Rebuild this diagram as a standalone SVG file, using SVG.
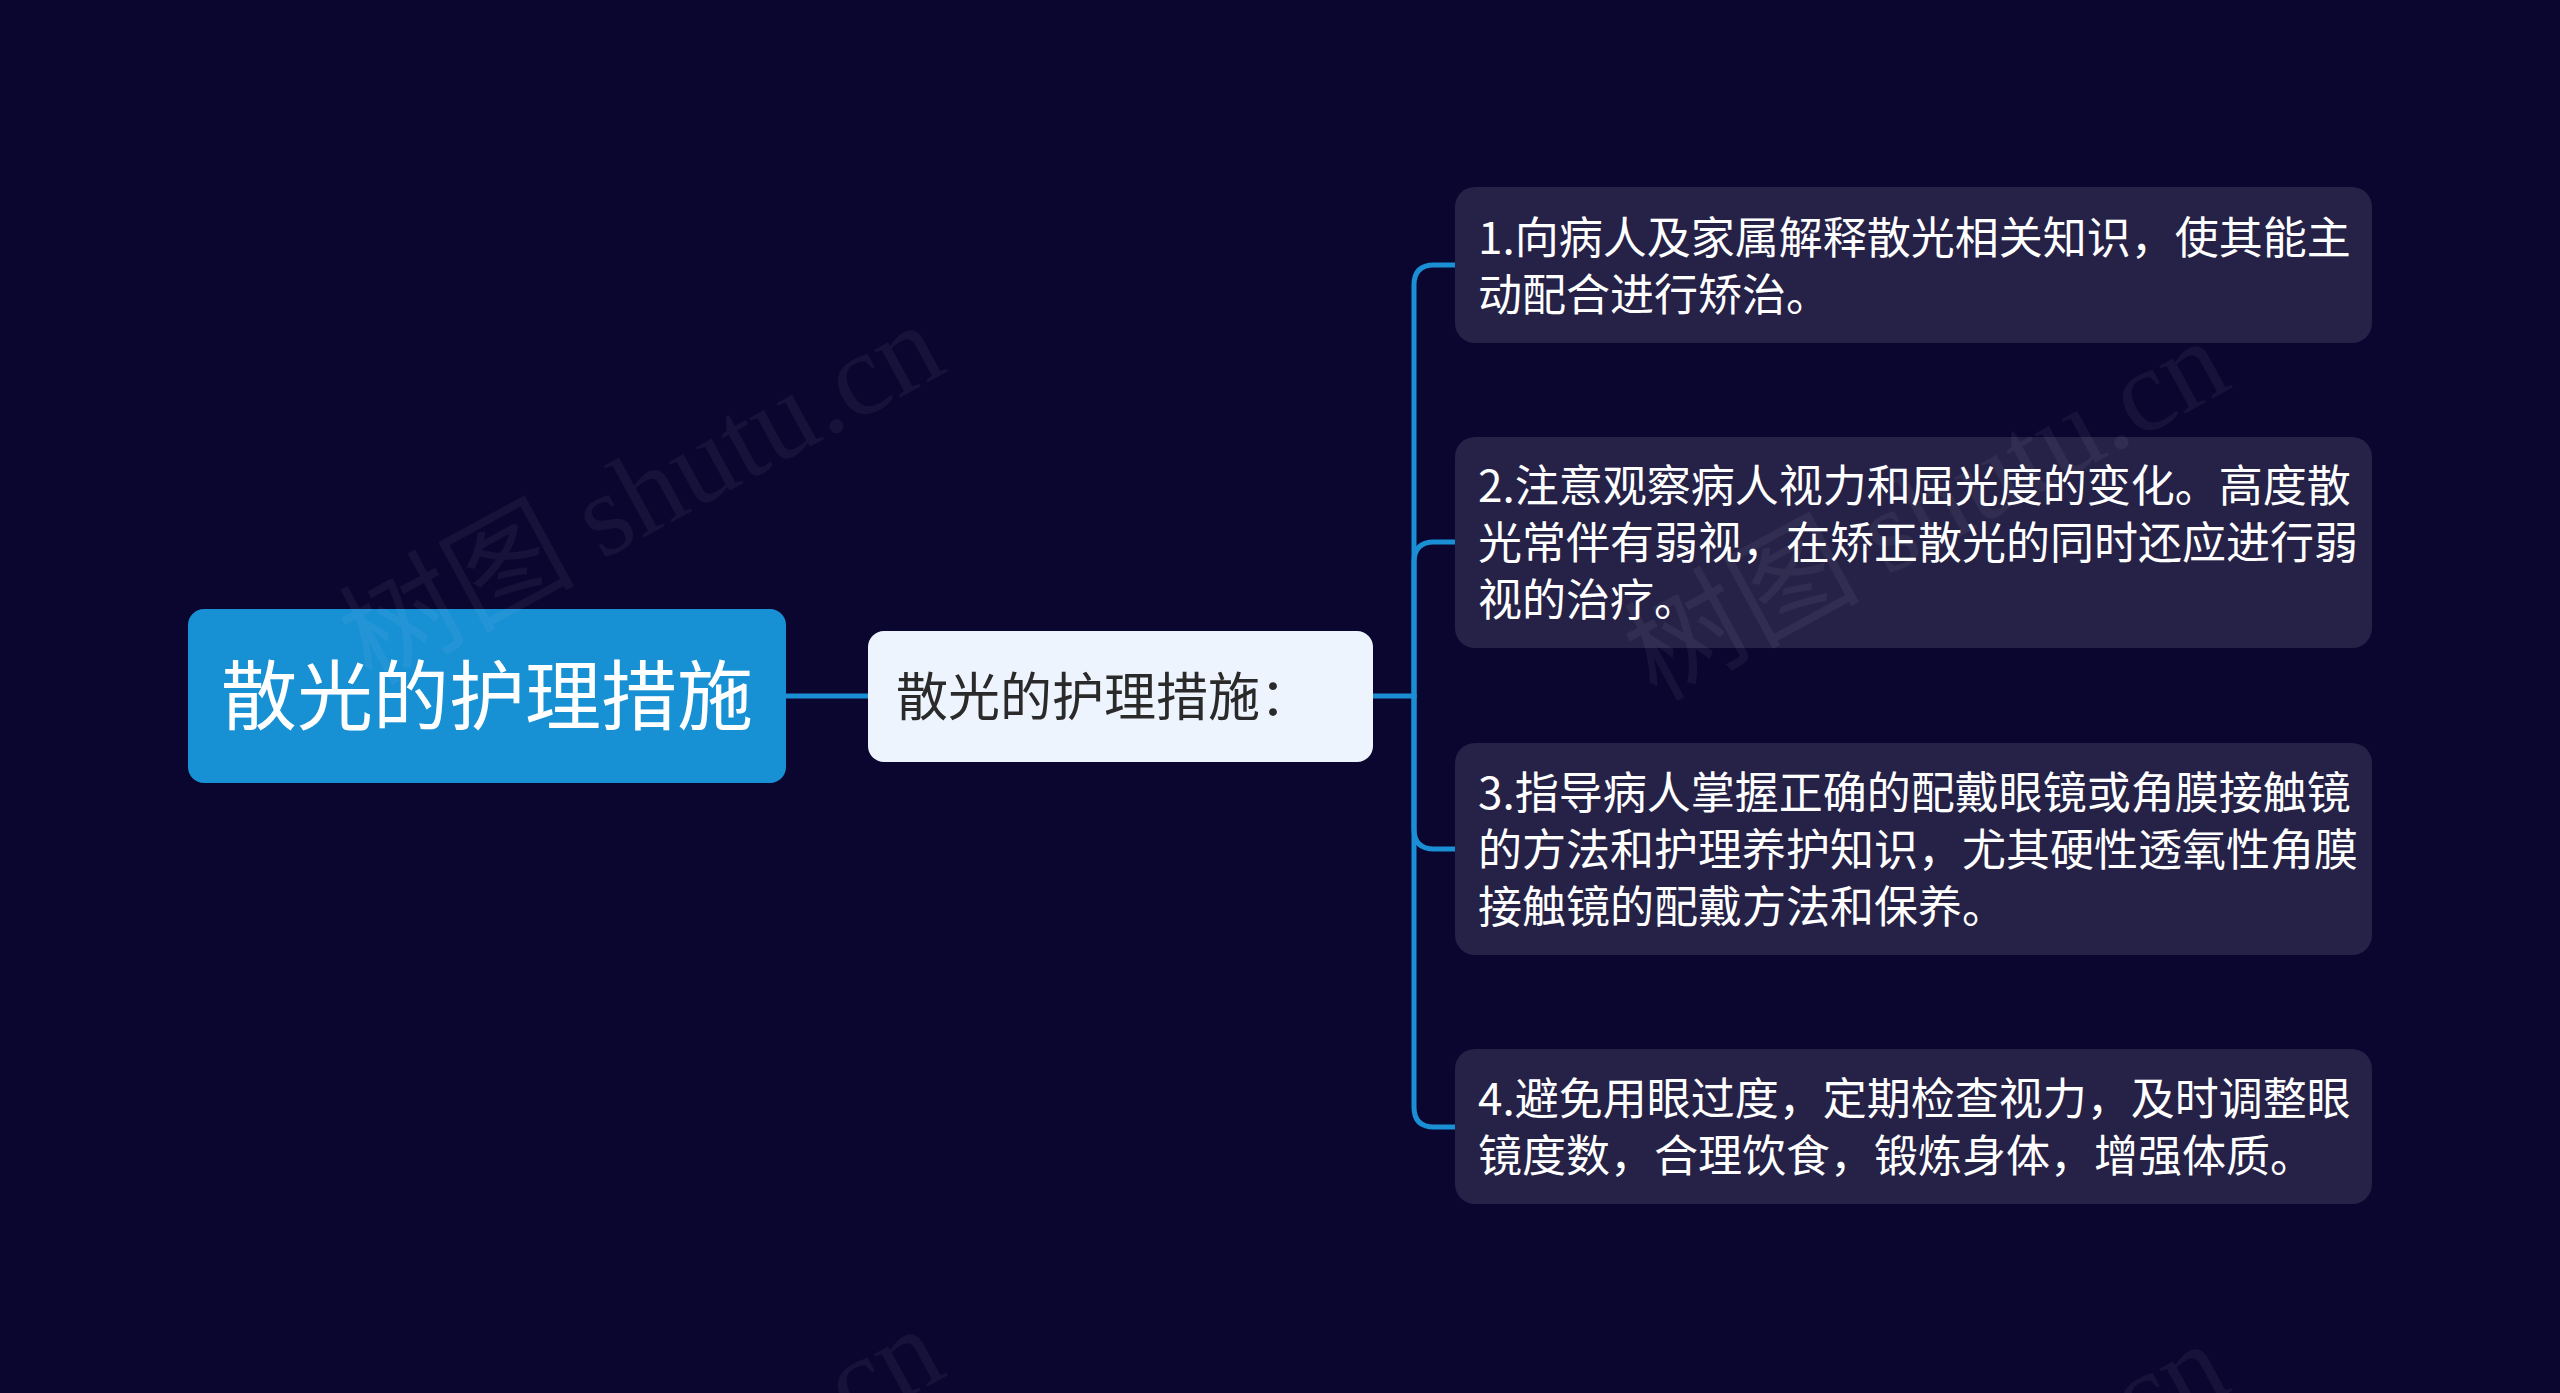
<svg xmlns="http://www.w3.org/2000/svg" width="2560" height="1393" viewBox="0 0 2560 1393">
<style>
.cjk{font-family:"Noto Sans CJK SC","Noto Sans",sans-serif;}
.leaf{fill:#262247;}
.leaftext{font-size:44px;fill:#ffffff;}
.conn{fill:none;stroke:#1a8fd6;stroke-width:5;stroke-linecap:round;}
.wm{font-size:118px;fill:#ffffff;fill-opacity:0.05;}
.wmlat{font-family:"Liberation Serif","DejaVu Serif",serif;}
</style>
<rect x="0" y="0" width="2560" height="1393" fill="#0b0630"/>
<g id="connectors">
<path class="conn" d="M786,696 H868"/>
<path class="conn" d="M1373,696 H1414"/>
<path class="conn" d="M1414,696 V285 Q1414,265 1434,265 H1455"/>
<path class="conn" d="M1414,696 V562 Q1414,542 1434,542 H1455"/>
<path class="conn" d="M1414,696 V829 Q1414,849 1434,849 H1455"/>
<path class="conn" d="M1414,696 V1107 Q1414,1127 1434,1127 H1455"/>
</g>
<g id="root">
<rect x="188" y="609" width="598" height="174" rx="16" fill="#1890d4"/>
<text class="cjk" x="487" y="724" font-size="76" fill="#ffffff" text-anchor="middle">散光的护理措施</text>
</g>
<g id="middle">
<rect x="868" y="631" width="505" height="131" rx="16" fill="#eef4fd"/>
<text class="cjk" x="896" y="716" font-size="52" fill="#2a2a2a">散光的护理措施：</text>
</g>
<g id="node1">
<rect class="leaf" x="1455" y="187" width="917" height="156" rx="20"/>
<text class="cjk leaftext"><tspan x="1478" y="254">1.向病人及家属解释散光相关知识，使其能主</tspan><tspan x="1478" y="311">动配合进行矫治。</tspan></text>
</g>
<g id="node2">
<rect class="leaf" x="1455" y="437" width="917" height="211" rx="20"/>
<text class="cjk leaftext"><tspan x="1478" y="502">2.注意观察病人视力和屈光度的变化。高度散</tspan><tspan x="1478" y="559">光常伴有弱视，在矫正散光的同时还应进行弱</tspan><tspan x="1478" y="616">视的治疗。</tspan></text>
</g>
<g id="node3">
<rect class="leaf" x="1455" y="743" width="917" height="212" rx="20"/>
<text class="cjk leaftext"><tspan x="1478" y="809">3.指导病人掌握正确的配戴眼镜或角膜接触镜</tspan><tspan x="1478" y="866">的方法和护理养护知识，尤其硬性透氧性角膜</tspan><tspan x="1478" y="923">接触镜的配戴方法和保养。</tspan></text>
</g>
<g id="node4">
<rect class="leaf" x="1455" y="1049" width="917" height="155" rx="20"/>
<text class="cjk leaftext"><tspan x="1478" y="1115">4.避免用眼过度，定期检查视力，及时调整眼</tspan><tspan x="1478" y="1172">镜度数，合理饮食，锻炼身体，增强体质。</tspan></text>
</g>
<g id="watermarks">
<text class="cjk wm" transform="rotate(-28.6 371 686)" x="371" y="686">树图 <tspan class="wmlat">shutu.cn</tspan></text>
<text class="cjk wm" transform="rotate(-28.6 1656 702)" x="1656" y="702">树图 <tspan class="wmlat">shutu.cn</tspan></text>
<text class="cjk wm" transform="rotate(-28.6 371 1690)" x="371" y="1690">树图 <tspan class="wmlat">shutu.cn</tspan></text>
<text class="cjk wm" transform="rotate(-28.6 1656 1705)" x="1656" y="1705">树图 <tspan class="wmlat">shutu.cn</tspan></text>
</g>
</svg>
